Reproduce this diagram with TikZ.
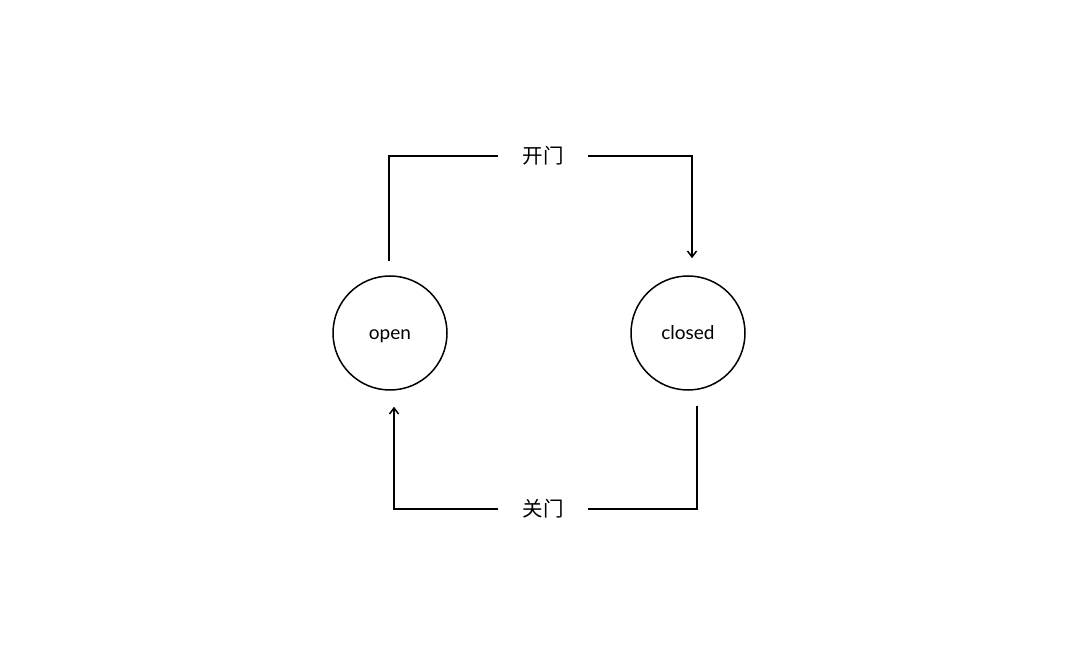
\documentclass[tikz,border=0pt]{standalone}
\usepackage{fontspec}
\setmainfont{Lato}
\newfontfamily\cjk{Noto Sans CJK SC}
\usetikzlibrary{positioning,arrows.meta,calc}
\tikzset{
  door/.style={x=1pt,y=1pt,line width=1.5pt,>={Straight Barb[length=6pt,width=9pt]}},
  stat/.style={draw,circle,line width=1.5pt,minimum size=114pt,inner sep=0pt,
    text height=16pt,text depth=3pt,font=\fontsize{19}{22}\selectfont},
  act/.style={minimum width=88pt,inner sep=0pt,font=\cjk\fontsize{20.5}{22}\selectfont},
}
\begin{document}
\begin{tikzpicture}[door]
  \useasboundingbox (0,0) rectangle (1080,665);
  \node[stat] (open) at (390,332) {open};
  \node[stat] (closed) at (688,332) {closed};
  \node[act] (ltop) at (543,509) {开门};
  \node[act] (lbot) at (543,156) {关门};
  % open -> closed
  \draw ([shift={(-1,14)}]open.north) |- (ltop.west);
  \draw[->] (ltop.east) -| ([shift={(4,17)}]closed.north);
  % closed -> open
  \draw ([shift={(9,-15)}]closed.south) |- (lbot.east);
  \draw[->] (lbot.west) -| ([shift={(4,-16)}]open.south);
\end{tikzpicture}
\end{document}
